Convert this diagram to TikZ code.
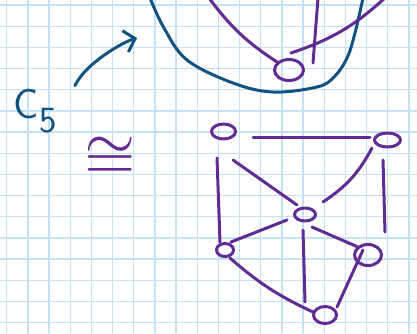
\documentclass[tikz,border=0pt]{standalone}
\usepackage{fontspec}
\newfontfamily\isofont{latinmodern-math.otf}
\usepackage{xcolor}
\definecolor{inkblue}{RGB}{18, 82, 128}
\definecolor{inkpurple}{RGB}{96, 44, 148}
\definecolor{gridblue}{RGB}{196, 226, 243}
\usepackage{tikz}
\usetikzlibrary{arrows.meta, shapes.geometric}

\begin{document}
\begin{tikzpicture}[x=1pt, y=-1pt, >={Straight Barb[length=10pt, width=22pt]},
    line cap=round, line join=round,
    ink/.style={line width=3pt},
    vtx/.style={ellipse, draw=inkpurple, ink, inner sep=0pt}]
    \useasboundingbox[fill=white] (0,0) rectangle (417,333);
    % grid paper
    \foreach \i in {0,...,19}
        \draw[gridblue, line width=1.3pt] ({6.7+21.17*\i},0) -- ({6.7+21.17*\i},333);
    \foreach \j in {0,...,15}
        \draw[gridblue, line width=1.3pt] (0,{5+21.17*\j}) -- (417,{5+21.17*\j});

    % C_5 drawn in the bowl
    \draw[inkblue, ink] plot[smooth, tension=0.6] coordinates {(150,-2) (164,28) (187,60) (233,83) (273,92) (317,87) (334,77) (347,58) (355,33) (363,-2)};
    \node[vtx, minimum width=29pt, minimum height=21pt] (b0) at (289,70) {};
    \coordinate (bl) at (209,-2);
    \coordinate (bm) at (318,-2);
    \coordinate (br) at (386,-3);
    \draw[inkpurple, ink] ([shift={(-12,-8)}]b0.center) to[bend left=10] (bl);
    \draw[inkpurple, ink] ([shift={(24,-7)}]b0.center) -- (bm);
    \draw[inkpurple, ink] ([shift={(2,-17)}]b0.center) to[bend right=12] (br);

    % label, arrow and iso sign
    \node[text=inkblue, anchor=base west, inner sep=0pt] (c5) at (13,118)
        {\sffamily\fontsize{42}{42}\selectfont C\kern1pt\raisebox{-14pt}{\fontsize{37}{37}\selectfont 5}};
    \coordinate (tip) at (137,38);
    \draw[inkblue, ink, ->] ([shift={(18,-3)}]c5.north east) .. controls +(10,-22) and +(-14,4) .. (tip);
    \node[text=inkpurple, inner sep=0pt] (iso) at (110,155) {\isofont\fontsize{66}{66}\selectfont ≅};

    % the other drawing
    \node[vtx, minimum width=24pt, minimum height=15pt] (v1) at (223.5,131.5) {};
    \node[vtx, minimum width=26pt, minimum height=14pt] (v2) at (387.5,140) {};
    \node[vtx, minimum width=21pt, minimum height=13pt] (v3) at (305,214.5) {};
    \node[vtx, minimum width=17pt, minimum height=13pt] (v4) at (225,250) {};
    \node[vtx, minimum width=27pt, minimum height=21pt] (v5) at (368,255) {};
    \node[vtx, minimum width=23pt, minimum height=17pt] (v6) at (325,315) {};
    \draw[inkpurple, ink] ([shift={(29.5,5.5)}]v1.center) -- ([shift={(-17.5,-3)}]v2.center);
    \draw[inkpurple, ink] ([shift={(-6.5,26.5)}]v1.center) -- ([shift={(-5,-8)}]v4.center);
    \draw[inkpurple, ink] ([shift={(9.5,28.5)}]v1.center) -- ([shift={(-8,-9.5)}]v3.center);
    \draw[inkpurple, ink] ([shift={(-15.5,8)}]v2.center) to[bend left=14] ([shift={(18,-12.5)}]v3.center);
    \draw[inkpurple, ink] ([shift={(-4.5,20)}]v2.center) -- ([shift={(17,-23)}]v5.center);
    \draw[inkpurple, ink] ([shift={(-18,5.5)}]v3.center) -- ([shift={(6,-8)}]v4.center);
    \draw[inkpurple, ink] ([shift={(-2,15.5)}]v3.center) -- ([shift={(-20,-13)}]v6.center);
    \draw[inkpurple, ink] ([shift={(7,12.5)}]v3.center) -- ([shift={(-10,-8)}]v5.center);
    \draw[inkpurple, ink] ([shift={(5,8)}]v4.center) to[bend right=8] ([shift={(-12,-3)}]v6.center);
    \draw[inkpurple, ink] ([shift={(-5,-5)}]v5.center) -- ([shift={(12,-8)}]v6.center);
\end{tikzpicture}
\end{document}
